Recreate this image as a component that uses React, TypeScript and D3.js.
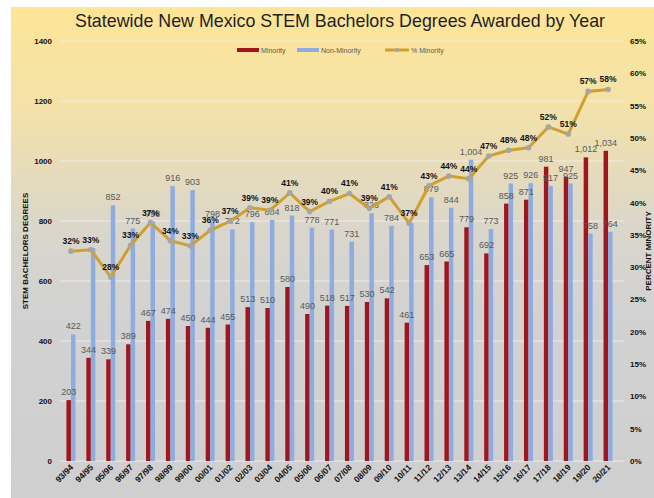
import React from "react";
import * as d3 from "d3";

const years = [
  "93/94", "94/95", "95/96", "96/97", "97/98", "98/99", "99/00", "00/01", "01/02", "02/03",
  "03/04", "04/05", "05/06", "06/07", "07/08", "08/09", "09/10", "10/11", "11/12", "12/13",
  "13/14", "14/15", "15/16", "16/17", "17/18", "18/19", "19/20", "20/21",
];
const minority = [
  203, 344, 339, 389, 467, 474, 450, 444, 455, 513, 510, 580, 490, 518, 517, 530, 542, 461,
  653, 665, 779, 692, 858, 871, 981, 947, 1012, 1034,
];
const nonMinority = [
  422, 710, 852, 775, 798, 916, 903, 798, 772, 796, 804, 818, 778, 771, 731, 826, 784, 793,
  879, 844, 1004, 773, 925, 926, 917, 925, 758, 764,
];
const pctMinority = [
  32.48, 32.7, 28.46, 33.4, 36.9, 34.1, 33.3, 35.7, 37.1, 39.2, 38.8, 41.49, 38.6, 40.2, 41.4,
  39.1, 40.9, 36.8, 42.6, 44.1, 43.7, 47.2, 48.1, 48.47, 51.7, 50.6, 57.2, 57.5,
];
// labels hidden behind the % labels in the original
const hiddenBlue = ["94/95", "10/11"];
const leftTicks = [0, 200, 400, 600, 800, 1000, 1200, 1400];
const rightTicks = d3.range(0, 70, 5);

const W = 654;
const H = 498;
const RED = "#a0161d";
const BLUE = "#8eacdf";
const GOLD = "#cfa02e";

export default function App() {
  const x = d3.scaleBand().domain(years).range([61, 618]);
  const y = d3.scaleLinear().domain([0, 1400]).range([461, 41]);
  const yR = d3.scaleLinear().domain([0, 65]).range([461, 41]);
  const bw = 4.5;
  const cx = (yr: string) => (x(yr) as number) + x.bandwidth() / 2;

  const line = d3
    .line<number>()
    .x((_, i) => cx(years[i]))
    .y((d) => yR(d));

  const fmt = d3.format(",");

  return (
    <svg
      width={W}
      height={H}
      style={{ position: "absolute", left: 0, top: 0 }}
      fontFamily="'Liberation Sans', Arial, sans-serif"
    >
      <defs>
        <linearGradient id="bg" x1="0" y1="0" x2="0" y2="1">
          <stop offset="0%" stopColor="#fde597" />
          <stop offset="20%" stopColor="#f4e2a8" />
          <stop offset="45%" stopColor="#dad6cb" />
          <stop offset="62%" stopColor="#d2d2d2" />
          <stop offset="100%" stopColor="#cfcfcf" />
        </linearGradient>
      </defs>
      <rect x={0} y={0} width={W} height={H} fill="#ffffff" />
      <rect x={11} y={7} width={W - 11} height={H - 7} fill="url(#bg)" />

      <text
        x={340}
        y={27}
        textAnchor="middle"
        fontSize={19}
        fill="#1f1f1f"
        textLength={530}
        lengthAdjust="spacingAndGlyphs"
      >
        Statewide New Mexico STEM Bachelors Degrees Awarded by Year
      </text>

      {/* gridlines */}
      {leftTicks.map((t) => (
        <line
          key={t}
          x1={60}
          x2={624}
          y1={y(t)}
          y2={y(t)}
          stroke="#eeeeee"
          strokeOpacity={0.9}
          strokeWidth={1}
        />
      ))}

      {/* left axis labels */}
      {leftTicks.map((t) => (
        <text
          key={t}
          x={52}
          y={y(t) + 3}
          textAnchor="end"
          fontSize={8}
          fontWeight="bold"
          fill="#111"
        >
          {t}
        </text>
      ))}
      {/* right axis labels */}
      {rightTicks.map((t) => (
        <text
          key={t}
          x={630}
          y={yR(t) + 3}
          textAnchor="start"
          fontSize={8}
          fontWeight="bold"
          fill="#111"
        >
          {t}%
        </text>
      ))}

      <text
        transform={`translate(28,251) rotate(-90)`}
        textAnchor="middle"
        fontSize={8}
        fontWeight="bold"
        fill="#111"
      >
        STEM BACHELORS DEGREES
      </text>
      <text
        transform={`translate(651,251) rotate(-90)`}
        textAnchor="middle"
        fontSize={8}
        fontWeight="bold"
        fill="#111"
      >
        PERCENT MINORITY
      </text>
      <text x={340} y={503} textAnchor="middle" fontSize={8} fontWeight="bold" fill="#111">
        ACADEMIC YEAR
      </text>

      {/* bars */}
      {years.map((yr, i) => (
        <g key={yr}>
          <rect
            x={cx(yr) - bw}
            y={y(minority[i])}
            width={bw}
            height={y(0) - y(minority[i])}
            fill={RED}
          />
          <rect
            x={cx(yr)}
            y={y(nonMinority[i])}
            width={bw}
            height={y(0) - y(nonMinority[i])}
            fill={BLUE}
          />
        </g>
      ))}

      {/* x labels */}
      {years.map((yr) => (
        <text
          key={yr}
          transform={`translate(${cx(yr) + 3},${468}) rotate(-45)`}
          textAnchor="end"
          fontSize={8.5}
          fontWeight="bold"
          fill="#111"
        >
          {yr}
        </text>
      ))}

      {/* value labels */}
      {years.map((yr, i) => (
        <g key={yr} fontSize={9} fill="#595959">
          <text x={cx(yr) - bw / 2} y={y(minority[i]) - 5} textAnchor="middle">
            {fmt(minority[i])}
          </text>
          {hiddenBlue.includes(yr) ? null : (
            <text x={cx(yr) + bw / 2} y={y(nonMinority[i]) - 5} textAnchor="middle">
              {fmt(nonMinority[i])}
            </text>
          )}
        </g>
      ))}

      {/* % line */}
      <path d={line(pctMinority) || ""} fill="none" stroke={GOLD} strokeWidth={3} />
      {pctMinority.map((p, i) => (
        <circle key={i} cx={cx(years[i])} cy={yR(p)} r={2.8} fill="#a5a5a5" />
      ))}
      {pctMinority.map((p, i) => (
        <text
          key={i}
          x={cx(years[i])}
          y={yR(p) - 7}
          textAnchor="middle"
          fontSize={8.5}
          fontWeight="bold"
          fill="#111"
        >
          {Math.round(p)}%
        </text>
      ))}

      {/* legend */}
      <g fontSize={7} fill="#595959">
        <rect x={237} y={48} width={22} height={4} fill={RED} />
        <text x={261} y={52.5}>Minority</text>
        <rect x={297} y={48} width={22} height={4} fill={BLUE} />
        <text x={321} y={52.5}>Non-Minority</text>
        <line x1={385} x2={409} y1={50} y2={50} stroke={GOLD} strokeWidth={3} />
        <circle cx={397} cy={50} r={2} fill="#a5a5a5" />
        <text x={411} y={52.5}>% Minority</text>
      </g>
    </svg>
  );
}
